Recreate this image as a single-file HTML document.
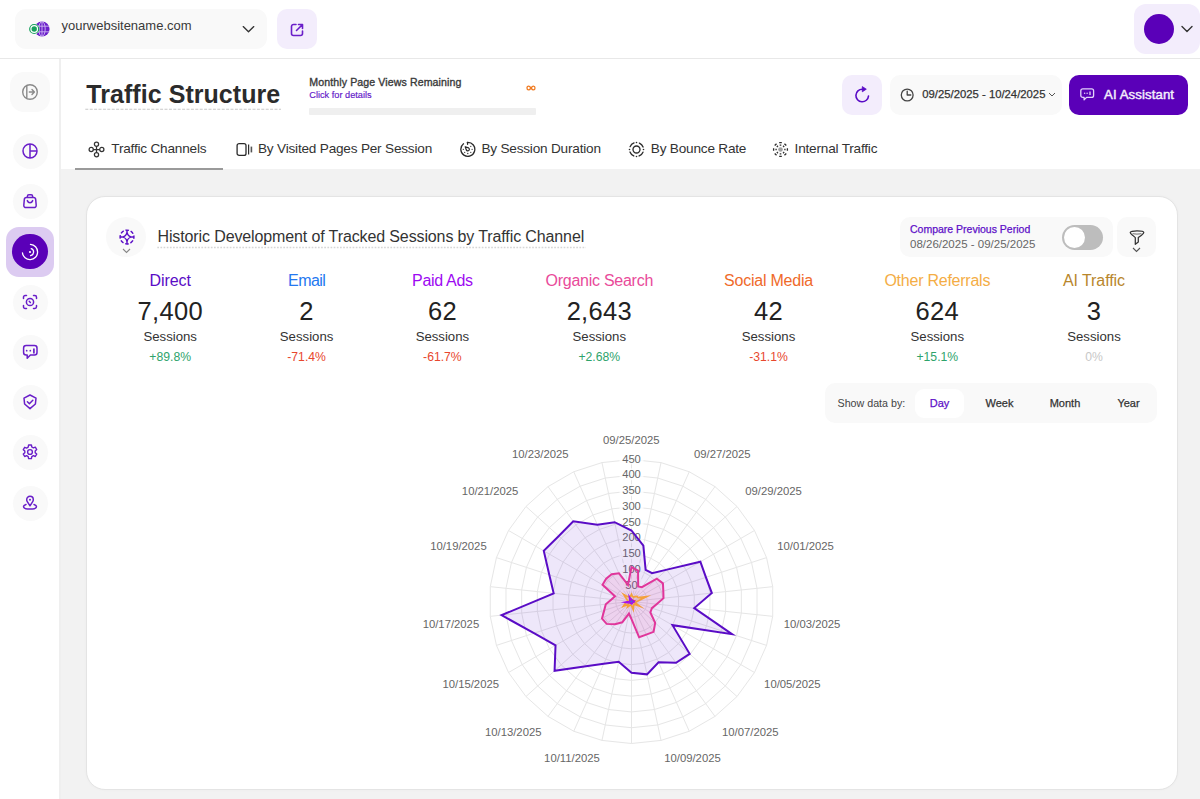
<!DOCTYPE html>
<html><head><meta charset="utf-8"><style>
*{box-sizing:border-box;margin:0;padding:0}
html,body{width:1200px;height:799px;overflow:hidden;background:#fff;font-family:"Liberation Sans",sans-serif}
.t{position:absolute;white-space:nowrap}
.a{position:absolute}
</style></head>
<body>
<div class="a" style="left:0;top:58px;width:1200px;height:1px;background:#e8e8e8"></div>
<div class="a" style="left:59px;top:59px;width:2px;height:740px;background:#efefef"></div>
<div class="a" style="left:61px;top:169px;width:1139px;height:630px;background:#f2f2f2"></div>
<div class="a" style="left:86px;top:196.3px;width:1092px;height:593.5px;background:#fff;border:1px solid #e4e4e4;border-radius:19px;box-shadow:0 0 3px rgba(0,0,0,0.03)"></div>
<div class="a" style="left:15px;top:9.3px;width:251.5px;height:40px;background:#f9f9f9;border-radius:11px"></div>
<svg class="a" style="left:26px;top:19px" width="26" height="20" viewBox="0 0 26 20">
<circle cx="16" cy="10" r="7.6" fill="#6a1fc9"/>
<g stroke="#cdb6f3" stroke-width="0.9" fill="none"><ellipse cx="16" cy="10" rx="3.2" ry="7.4"/><path d="M16 2.6v14.8M8.8 7.2h14.4M8.8 12.8h14.4"/></g>
<circle cx="8.2" cy="10" r="5.3" fill="#fff"/>
<circle cx="8.2" cy="10" r="4.5" fill="none" stroke="#17a05d" stroke-width="1.2"/>
<circle cx="8.2" cy="10" r="2.7" fill="#17a05d"/>
</svg>
<div class="t" style="top:19.00px;font-size:13px;line-height:13px;color:#3a3a3a;font-weight:400;left:61.50px;">yourwebsitename.com</div>
<svg class="a" style="left:242px;top:24.5px" width="13" height="9" viewBox="0 0 13 9"><path d="M1.2 1.6l5.3 5.2 5.3-5.2" fill="none" stroke="#333" stroke-width="1.35" stroke-linecap="round" stroke-linejoin="round"/></svg>
<div class="a" style="left:277px;top:9px;width:40px;height:40px;background:#f3edfc;border-radius:10px"></div>
<svg class="a" style="left:288px;top:20.6px" width="18" height="18" viewBox="0 0 18 18"><path d="M8 3.5H5.5a2 2 0 0 0-2 2v7a2 2 0 0 0 2 2h7a2 2 0 0 0 2-2V10" fill="none" stroke="#6a1fc9" stroke-width="1.6" stroke-linecap="round"/><path d="M10.5 3.5h4v4M14.5 3.5L8.5 9.5" fill="none" stroke="#6a1fc9" stroke-width="1.6" stroke-linecap="round" stroke-linejoin="round"/></svg>
<div class="a" style="left:1134px;top:4px;width:66px;height:50px;background:#f3edfc;border-radius:12px"></div>
<div class="a" style="left:1144px;top:14px;width:30px;height:30px;background:#5a00b8;border-radius:50%"></div>
<svg class="a" style="left:1180px;top:24px" width="14" height="10" viewBox="0 0 14 10"><path d="M2 2.5l5 5 5-5" fill="none" stroke="#333" stroke-width="1.4" stroke-linecap="round" stroke-linejoin="round"/></svg>
<div class="a" style="left:10px;top:72px;width:40px;height:40px;background:#f9f9f9;border-radius:14px"></div>
<svg class="a" style="left:20px;top:82px" width="20" height="20" viewBox="0 0 20 20"><circle cx="10" cy="10" r="7.3" fill="none" stroke="#8a8a8a" stroke-width="1.4"/><path d="M6.8 3.5v13" stroke="#8a8a8a" stroke-width="1.4"/><path d="M9.3 10h5M12 7.6l2.4 2.4-2.4 2.4" fill="none" stroke="#8a8a8a" stroke-width="1.4" stroke-linecap="round" stroke-linejoin="round"/></svg>
<div class="a" style="left:12.5px;top:133.5px;width:35px;height:35px;background:#f9f9f9;border-radius:50%"></div>
<svg class="a" style="left:20px;top:141px" width="20" height="20" viewBox="0 0 20 20"><circle cx="10" cy="10" r="7" fill="none" stroke="#6a1fc9" stroke-width="1.5"/><path d="M10 3v14M10 10h7" stroke="#6a1fc9" stroke-width="1.5"/></svg>
<div class="a" style="left:12.5px;top:183.5px;width:35px;height:35px;background:#f9f9f9;border-radius:50%"></div>
<svg class="a" style="left:20px;top:191px" width="20" height="20" viewBox="0 0 20 20"><path d="M6.4 6.6h7.2c1.2 0 2 .8 2.1 2l.5 5.6c.1 1.4-.9 2.4-2.2 2.4H6c-1.3 0-2.3-1-2.2-2.4l.5-5.6c.1-1.2.9-2 2.1-2z" fill="none" stroke="#6a1fc9" stroke-width="1.5" stroke-linejoin="round"/><path d="M7.4 6.6V5.2c0-.9.6-1.5 1.5-1.5h2.2c.9 0 1.5.6 1.5 1.5v1.4" fill="none" stroke="#6a1fc9" stroke-width="1.5"/><path d="M7.3 9.6c.6 1.5 1.6 2.2 2.7 2.2s2.1-.7 2.7-2.2" fill="none" stroke="#6a1fc9" stroke-width="1.5" stroke-linecap="round"/></svg>
<div class="a" style="left:12.5px;top:284.5px;width:35px;height:35px;background:#f9f9f9;border-radius:50%"></div>
<svg class="a" style="left:20px;top:292px" width="20" height="20" viewBox="0 0 20 20"><path d="M3.5 6.5V5.2c0-1 .7-1.7 1.7-1.7h1.3M13.5 3.5h1.3c1 0 1.7.7 1.7 1.7v1.3M16.5 13.5v1.3c0 1-.7 1.7-1.7 1.7h-1.3M6.5 16.5H5.2c-1 0-1.7-.7-1.7-1.7v-1.3" fill="none" stroke="#6a1fc9" stroke-width="1.5" stroke-linecap="round"/><circle cx="10" cy="10" r="3.6" fill="none" stroke="#6a1fc9" stroke-width="1.5"/><path d="M9.2 9.2l1.2 1.2" stroke="#6a1fc9" stroke-width="1.4" stroke-linecap="round"/></svg>
<div class="a" style="left:12.5px;top:334.5px;width:35px;height:35px;background:#f9f9f9;border-radius:50%"></div>
<svg class="a" style="left:20px;top:342px" width="20" height="20" viewBox="0 0 20 20"><path d="M6.1 3.6h8.4c1.4 0 2.5 1.1 2.5 2.5v4.4c0 1.4-1.1 2.5-2.5 2.5H10.4l-3.2 3.3v-3.3H6.1c-1.4 0-2.5-1.1-2.5-2.5V6.1c0-1.4 1.1-2.5 2.5-2.5z" fill="none" stroke="#6a1fc9" stroke-width="1.5" stroke-linejoin="round"/><circle cx="6.7" cy="8.7" r=".85" fill="#6a1fc9"/><circle cx="10.3" cy="8.7" r=".85" fill="#6a1fc9"/><path d="M13.9 6.4v5.2" stroke="#6a1fc9" stroke-width="1.7"/></svg>
<div class="a" style="left:12.5px;top:384.5px;width:35px;height:35px;background:#f9f9f9;border-radius:50%"></div>
<svg class="a" style="left:20px;top:392px" width="20" height="20" viewBox="0 0 20 20"><path d="M10 3L4 6.2l.6 5.8L10 16.6l5.4-4.6.6-5.8z" fill="none" stroke="#6a1fc9" stroke-width="1.5" stroke-linejoin="round"/><path d="M7.4 9.8l2 1.9 3.4-3.4" fill="none" stroke="#6a1fc9" stroke-width="1.5" stroke-linecap="round" stroke-linejoin="round"/></svg>
<div class="a" style="left:12.5px;top:434.5px;width:35px;height:35px;background:#f9f9f9;border-radius:50%"></div>
<svg class="a" style="left:20px;top:442px" width="20" height="20" viewBox="0 0 20 20"><path d="M8.6 3h2.8l.4 2 1.6.9 1.9-.8 1.4 2.4-1.5 1.4v1.8l1.5 1.4-1.4 2.4-1.9-.8-1.6.9-.4 2H8.6l-.4-2-1.6-.9-1.9.8-1.4-2.4 1.5-1.4V9.1L3.3 7.7l1.4-2.4 1.9.8 1.6-.9z" fill="none" stroke="#6a1fc9" stroke-width="1.4" stroke-linejoin="round"/><circle cx="10" cy="10" r="2.4" fill="none" stroke="#6a1fc9" stroke-width="1.4"/></svg>
<div class="a" style="left:12.5px;top:485.5px;width:35px;height:35px;background:#f9f9f9;border-radius:50%"></div>
<svg class="a" style="left:20px;top:493px" width="20" height="20" viewBox="0 0 20 20"><path d="M10 12.8L7.3 8.6C6.9 8 6.7 7.4 6.7 6.7 6.7 4.8 8.2 3.3 10 3.3s3.3 1.5 3.3 3.4c0 .7-.2 1.3-.6 1.9z" fill="none" stroke="#6a1fc9" stroke-width="1.5" stroke-linejoin="round"/><circle cx="10" cy="6.8" r="1" fill="#6a1fc9"/><path d="M6 11.5c-1.6.5-2.5 1.2-2.5 2 0 1.5 2.9 2.6 6.5 2.6s6.5-1.1 6.5-2.6c0-.8-.9-1.5-2.5-2" fill="none" stroke="#6a1fc9" stroke-width="1.5" stroke-linecap="round"/></svg>
<div class="a" style="left:6px;top:227px;width:48px;height:50px;background:#dccbf1;border-radius:13px"></div>
<div class="a" style="left:12.2px;top:233.8px;width:35.6px;height:35.6px;background:#5a00b8;border-radius:50%"></div>
<svg class="a" style="left:20px;top:241.6px" width="20" height="20" viewBox="0 0 20 20"><path d="M10.5 2.4A7.6 7.6 0 1 1 2.45 10.8" fill="none" stroke="#fff" stroke-width="1.3" stroke-linecap="round"/><path d="M11.2 6.6A3.6 3.6 0 0 1 10.6 13.55" fill="none" stroke="#fff" stroke-width="1.3" stroke-linecap="round"/><circle cx="10" cy="10" r="1.1" fill="#fff"/></svg>
<div class="t" style="top:81.84px;font-size:25px;line-height:25px;color:#2b2b2b;font-weight:700;letter-spacing:0.05px;left:86.30px;">Traffic Structure</div>
<svg class="a" style="left:85px;top:108px" width="197" height="3"><line x1="0.3" y1="1.3" x2="196" y2="1.3" stroke="#c8c8c8" stroke-width="1.1" stroke-dasharray="3 1.4"/></svg>
<div class="t" style="top:76.53px;font-size:10.6px;line-height:10.6px;color:#3a3a3a;font-weight:400;letter-spacing:0.1px;left:309.30px;-webkit-text-stroke:0.35px #3a3a3a">Monthly Page Views Remaining</div>
<div class="t" style="top:91.21px;font-size:9.2px;line-height:9.2px;color:#6214c8;font-weight:400;left:309.30px;-webkit-text-stroke:0.15px #6214c8">Click for details</div>
<div class="a" style="left:309px;top:108px;width:227px;height:7px;background:#efefef;border-radius:1px"></div>
<svg class="a" style="left:526px;top:85px" width="10" height="6" viewBox="0 0 10 6"><path d="M5 3C4 1.6 3.4 1.1 2.6 1.1 1.6 1.1 1 1.9 1 3s.6 1.9 1.6 1.9c.8 0 1.4-.5 2.4-1.9s1.6-1.9 2.4-1.9C8.4 1.1 9 1.9 9 3s-.6 1.9-1.6 1.9C6.6 4.9 6 4.4 5 3z" fill="none" stroke="#f07a20" stroke-width="1.3"/></svg>
<div class="a" style="left:842px;top:74.5px;width:40px;height:40px;background:#f3edfc;border-radius:10px"></div>
<svg class="a" style="left:852px;top:84px" width="20" height="20" viewBox="0 0 20 20"><path d="M16.5 12A6.3 6.3 0 1 1 10.4 5.2" fill="none" stroke="#5a0cc6" stroke-width="1.6" stroke-linecap="round"/><path d="M10.3 2.6L14.3 5.2 10.3 7.8z" fill="#5a0cc6" stroke="#5a0cc6" stroke-width="0.8" stroke-linejoin="round"/></svg>
<div class="a" style="left:890px;top:74.5px;width:172px;height:40px;background:#f9f9f9;border-radius:10px"></div>
<svg class="a" style="left:899px;top:86.5px" width="16" height="16" viewBox="0 0 16 16"><circle cx="8.2" cy="8" r="5.9" fill="none" stroke="#444" stroke-width="1.3"/><path d="M8.2 4.1V8h3.6" fill="none" stroke="#444" stroke-width="1.3" stroke-linecap="round" stroke-linejoin="round"/></svg>
<div class="t" style="top:88.93px;font-size:11.3px;line-height:11.3px;color:#333;font-weight:400;left:922.30px;-webkit-text-stroke:0.25px currentColor">09/25/2025 - 10/24/2025</div>
<svg class="a" style="left:1047.5px;top:92px" width="8" height="5" viewBox="0 0 8 5"><path d="M1 1l3 3 3-3" fill="none" stroke="#555" stroke-width="1"/></svg>
<div class="a" style="left:1069px;top:74.5px;width:119px;height:40px;background:#5a00b8;border-radius:10px"></div>
<svg class="a" style="left:1079px;top:87px" width="17" height="15" viewBox="0 0 17 15"><path d="M3.8 1.8h8.8c1.2 0 2 .8 2 2v4.6c0 1.2-.8 2-2 2H7.6l-2.5 2.4v-2.4H3.8c-1.2 0-2-.8-2-2V3.8c0-1.2.8-2 2-2z" fill="none" stroke="#e2d4fa" stroke-width="1.3" stroke-linejoin="round"/><circle cx="5.6" cy="6.2" r=".75" fill="#e2d4fa"/><circle cx="8.1" cy="6.2" r=".75" fill="#e2d4fa"/><path d="M11 4.4v3.6" stroke="#e2d4fa" stroke-width="1.3"/></svg>
<div class="t" style="top:88.03px;font-size:13.2px;line-height:13.2px;color:#f4effc;font-weight:400;letter-spacing:0.1px;left:1104.00px;-webkit-text-stroke:0.45px #f4effc">AI Assistant</div>
<div class="t" style="top:142.49px;font-size:13.6px;line-height:13.6px;color:#333;font-weight:400;letter-spacing:-0.2px;left:111.30px;">Traffic Channels</div>
<div class="t" style="top:142.49px;font-size:13.6px;line-height:13.6px;color:#333;font-weight:400;letter-spacing:-0.2px;left:258.00px;">By Visited Pages Per Session</div>
<div class="t" style="top:142.49px;font-size:13.6px;line-height:13.6px;color:#333;font-weight:400;letter-spacing:-0.2px;left:481.40px;">By Session Duration</div>
<div class="t" style="top:142.49px;font-size:13.6px;line-height:13.6px;color:#333;font-weight:400;letter-spacing:-0.2px;left:650.80px;">By Bounce Rate</div>
<div class="t" style="top:142.49px;font-size:13.6px;line-height:13.6px;color:#333;font-weight:400;letter-spacing:-0.2px;left:794.60px;">Internal Traffic</div>
<div class="a" style="left:75px;top:168px;width:148px;height:2px;background:#9a9a9a"></div>
<svg class="a" style="left:88px;top:141.3px" width="17" height="17" viewBox="0 0 17 17" fill="none" stroke="#333" stroke-width="1.25"><circle cx="8.5" cy="3.3" r="2.1"/><circle cx="3.2" cy="8.5" r="2.1"/><circle cx="13.8" cy="8.5" r="2.1"/><circle cx="8.5" cy="13.7" r="2.1"/><path d="M5.3 8.5h6.4M8.5 5.4v6.2"/></svg>
<svg class="a" style="left:236px;top:142px" width="17" height="15" viewBox="0 0 17 15" fill="none" stroke="#2b2b2b" stroke-width="1.3"><rect x="1.1" y="1.6" width="8.9" height="11.8" rx="2"/><path d="M12.6 2.6v9.8" stroke-width="1.2"/><path d="M15.4 4.6v5.8" stroke-width="1.6" stroke="#555"/></svg>
<svg class="a" style="left:458.5px;top:140px" width="17" height="17" viewBox="0 0 17 17" fill="none" stroke="#2b2b2b" stroke-width="1.3" stroke-linecap="round"><path d="M8.56 2.3A7 7 0 1 1 4.49 3.78"/><path d="M8.56 2.3v2"/><path d="M6.2 6.7l3.4 1.2a1.6 1.6 0 1 1-2.2 2.2z" stroke-width="1.2" stroke-linejoin="round"/><g fill="#2b2b2b" stroke="none"><circle cx="11.8" cy="6.3" r=".65"/><circle cx="13.1" cy="9.3" r=".65"/><circle cx="11.8" cy="12.3" r=".65"/><circle cx="8.8" cy="13.5" r=".65"/><circle cx="5.7" cy="12.3" r=".65"/><circle cx="4.3" cy="9.3" r=".65"/></g></svg>
<svg class="a" style="left:628px;top:140.7px" width="17" height="17" viewBox="0 0 17 17" fill="none" stroke="#2b2b2b" stroke-width="1.35"><circle cx="8.5" cy="8.5" r="7" stroke-dasharray="5.5 5.5" stroke-dashoffset="-2.75" stroke-linecap="round"/><circle cx="8.5" cy="8.5" r="3.5"/><g fill="#2b2b2b" stroke="none"><circle cx="8.5" cy="1.5" r=".8"/><circle cx="8.5" cy="15.5" r=".8"/><circle cx="1.5" cy="8.5" r=".8"/><circle cx="15.5" cy="8.5" r=".8"/></g></svg>
<svg class="a" style="left:771.6px;top:140.8px" width="17" height="17" viewBox="0 0 17 17" fill="none" stroke="#2b2b2b" stroke-width="1.3"><circle cx="8.5" cy="8.5" r="2.3" fill="#a0a0a0" stroke="none"/><path d="M15.40 7.20L15.40 9.80M14.30 12.46L12.46 14.30M9.80 15.40L7.20 15.40M4.54 14.30L2.70 12.46M1.60 9.80L1.60 7.20M2.70 4.54L4.54 2.70M7.20 1.60L9.80 1.60M12.46 2.70L14.30 4.54M12.90 7.70L12.90 9.30M12.18 11.05L11.05 12.18M9.30 12.90L7.70 12.90M5.95 12.18L4.82 11.05M4.10 9.30L4.10 7.70M4.82 5.95L5.95 4.82M7.70 4.10L9.30 4.10M11.05 4.82L12.18 5.95"/></svg>
<div class="a" style="left:106px;top:217px;width:40px;height:40px;background:#f9f9f9;border-radius:50%"></div>
<svg class="a" style="left:117.5px;top:228.25px" width="18" height="18" viewBox="0 0 18 18" fill="none" stroke="#5a0cc6" stroke-width="1.45"><circle cx="9" cy="9" r="6.9" stroke-dasharray="3.6 1.82" stroke-dashoffset="1.8"/><path d="M9 2.1v2.6M9 13.3v2.6M2.1 9h2.6M13.3 9h2.6" stroke-width="1.4"/><path d="M9 4.7Q9.8 8.2 13.3 9 9.8 9.8 9 13.3 8.2 9.8 4.7 9 8.2 8.2 9 4.7z" stroke-width="1.25" stroke-linejoin="round"/></svg>
<svg class="a" style="left:122px;top:247.5px" width="9" height="6" viewBox="0 0 9 6"><path d="M1 1l3.5 3.5L8 1" fill="none" stroke="#888" stroke-width="1.1"/></svg>
<div class="t" style="top:229.26px;font-size:16px;line-height:16px;color:#333;font-weight:400;letter-spacing:-0.12px;left:157.50px;">Historic Development of Tracked Sessions by Traffic Channel</div>
<svg class="a" style="left:157px;top:245.5px" width="430" height="3"><line x1="0.3" y1="1.5" x2="429" y2="1.5" stroke="#d6d6d6" stroke-width="1.6" stroke-dasharray="1.7 1.45"/></svg>
<div class="a" style="left:900px;top:217px;width:213px;height:40px;background:#f9f9f9;border-radius:10px"></div>
<div class="t" style="top:224.11px;font-size:10.5px;line-height:10.5px;color:#5e10c8;font-weight:400;left:910.00px;-webkit-text-stroke:0.25px currentColor">Compare Previous Period</div>
<div class="t" style="top:239.27px;font-size:11.5px;line-height:11.5px;color:#666;font-weight:400;left:910.00px;">08/26/2025 - 09/25/2025</div>
<div class="a" style="left:1062px;top:225px;width:41px;height:25px;background:#bdbdbd;border-radius:13px"></div>
<div class="a" style="left:1064px;top:227px;width:21px;height:21px;background:#fff;border-radius:50%"></div>
<div class="a" style="left:1117px;top:217px;width:39px;height:40px;background:#f9f9f9;border-radius:10px"></div>
<svg class="a" style="left:1127.5px;top:229.6px" width="17" height="16" viewBox="0 0 17 16" fill="none" stroke="#333" stroke-width="1.25" stroke-linejoin="round"><path d="M2.2 2.6C2.2 1.4 5 .9 9 .9s6.8.5 6.8 1.7c0 1-1.3 1.8-2.6 2.8L10.3 7.6V12l-3 2.3V7.6L4.8 5.4C3.5 4.4 2.2 3.6 2.2 2.6z"/><path d="M4.6 3.6c1.2.4 2.6.5 4.4.5s3.2-.1 4.4-.5" stroke="#888" stroke-width="1.1"/></svg>
<svg class="a" style="left:1132px;top:247px" width="9" height="6" viewBox="0 0 9 6"><path d="M1 1l3.5 3.5L8 1" fill="none" stroke="#555" stroke-width="1.1"/></svg>
<div class="t" style="top:272.86px;font-size:16px;line-height:16px;color:#5a0cc6;font-weight:400;letter-spacing:-0.06px;left:-129.80px;width:600px;text-align:center;">Direct</div>
<div class="t" style="top:299.21px;font-size:25.5px;line-height:25.5px;color:#222;font-weight:400;letter-spacing:0.3px;left:-129.80px;width:600px;text-align:center;">7,400</div>
<div class="t" style="top:329.93px;font-size:13.2px;line-height:13.2px;color:#333;font-weight:400;left:-129.80px;width:600px;text-align:center;">Sessions</div>
<div class="t" style="top:350.67px;font-size:12.2px;line-height:12.2px;color:#2ea36b;font-weight:400;left:-129.80px;width:600px;text-align:center;">+89.8%</div>
<div class="t" style="top:272.86px;font-size:16px;line-height:16px;color:#2478f0;font-weight:400;letter-spacing:-0.6px;left:6.60px;width:600px;text-align:center;">Email</div>
<div class="t" style="top:299.21px;font-size:25.5px;line-height:25.5px;color:#222;font-weight:400;letter-spacing:0.3px;left:6.60px;width:600px;text-align:center;">2</div>
<div class="t" style="top:329.93px;font-size:13.2px;line-height:13.2px;color:#333;font-weight:400;left:6.60px;width:600px;text-align:center;">Sessions</div>
<div class="t" style="top:350.67px;font-size:12.2px;line-height:12.2px;color:#e8472e;font-weight:400;left:6.60px;width:600px;text-align:center;">-71.4%</div>
<div class="t" style="top:272.86px;font-size:16px;line-height:16px;color:#9d0af2;font-weight:400;letter-spacing:-0.32px;left:142.40px;width:600px;text-align:center;">Paid Ads</div>
<div class="t" style="top:299.21px;font-size:25.5px;line-height:25.5px;color:#222;font-weight:400;letter-spacing:0.3px;left:142.40px;width:600px;text-align:center;">62</div>
<div class="t" style="top:329.93px;font-size:13.2px;line-height:13.2px;color:#333;font-weight:400;left:142.40px;width:600px;text-align:center;">Sessions</div>
<div class="t" style="top:350.67px;font-size:12.2px;line-height:12.2px;color:#e8472e;font-weight:400;left:142.40px;width:600px;text-align:center;">-61.7%</div>
<div class="t" style="top:272.86px;font-size:16px;line-height:16px;color:#e94a9a;font-weight:400;letter-spacing:-0.26px;left:299.30px;width:600px;text-align:center;">Organic Search</div>
<div class="t" style="top:299.21px;font-size:25.5px;line-height:25.5px;color:#222;font-weight:400;letter-spacing:0.3px;left:299.30px;width:600px;text-align:center;">2,643</div>
<div class="t" style="top:329.93px;font-size:13.2px;line-height:13.2px;color:#333;font-weight:400;left:299.30px;width:600px;text-align:center;">Sessions</div>
<div class="t" style="top:350.67px;font-size:12.2px;line-height:12.2px;color:#2ea36b;font-weight:400;left:299.30px;width:600px;text-align:center;">+2.68%</div>
<div class="t" style="top:272.86px;font-size:16px;line-height:16px;color:#ef6a2a;font-weight:400;letter-spacing:-0.22px;left:468.50px;width:600px;text-align:center;">Social Media</div>
<div class="t" style="top:299.21px;font-size:25.5px;line-height:25.5px;color:#222;font-weight:400;letter-spacing:0.3px;left:468.50px;width:600px;text-align:center;">42</div>
<div class="t" style="top:329.93px;font-size:13.2px;line-height:13.2px;color:#333;font-weight:400;left:468.50px;width:600px;text-align:center;">Sessions</div>
<div class="t" style="top:350.67px;font-size:12.2px;line-height:12.2px;color:#e8472e;font-weight:400;left:468.50px;width:600px;text-align:center;">-31.1%</div>
<div class="t" style="top:272.86px;font-size:16px;line-height:16px;color:#f4ad45;font-weight:400;letter-spacing:-0.24px;left:637.30px;width:600px;text-align:center;">Other Referrals</div>
<div class="t" style="top:299.21px;font-size:25.5px;line-height:25.5px;color:#222;font-weight:400;letter-spacing:0.3px;left:637.30px;width:600px;text-align:center;">624</div>
<div class="t" style="top:329.93px;font-size:13.2px;line-height:13.2px;color:#333;font-weight:400;left:637.30px;width:600px;text-align:center;">Sessions</div>
<div class="t" style="top:350.67px;font-size:12.2px;line-height:12.2px;color:#2ea36b;font-weight:400;left:637.30px;width:600px;text-align:center;">+15.1%</div>
<div class="t" style="top:272.86px;font-size:16px;line-height:16px;color:#b8862b;font-weight:400;letter-spacing:-0.08px;left:794.00px;width:600px;text-align:center;">AI Traffic</div>
<div class="t" style="top:299.21px;font-size:25.5px;line-height:25.5px;color:#222;font-weight:400;letter-spacing:0.3px;left:794.00px;width:600px;text-align:center;">3</div>
<div class="t" style="top:329.93px;font-size:13.2px;line-height:13.2px;color:#333;font-weight:400;left:794.00px;width:600px;text-align:center;">Sessions</div>
<div class="t" style="top:350.67px;font-size:12.2px;line-height:12.2px;color:#c8c8c8;font-weight:400;left:794.00px;width:600px;text-align:center;">0%</div>
<div class="a" style="left:825px;top:383px;width:332px;height:40px;background:#f9f9f9;border-radius:10px"></div>
<div class="a" style="left:915px;top:389px;width:49px;height:29px;background:#fff;border-radius:9px"></div>
<div class="t" style="top:397.94px;font-size:10.7px;line-height:10.7px;color:#444;font-weight:400;left:837.50px;">Show data by:</div>
<div class="t" style="top:397.69px;font-size:11px;line-height:11px;color:#5e10c8;font-weight:400;left:639.60px;width:600px;text-align:center;-webkit-text-stroke:0.25px currentColor">Day</div>
<div class="t" style="top:397.69px;font-size:11px;line-height:11px;color:#333;font-weight:400;left:699.50px;width:600px;text-align:center;-webkit-text-stroke:0.25px currentColor">Week</div>
<div class="t" style="top:397.69px;font-size:11px;line-height:11px;color:#333;font-weight:400;left:765.00px;width:600px;text-align:center;-webkit-text-stroke:0.25px currentColor">Month</div>
<div class="t" style="top:397.69px;font-size:11px;line-height:11px;color:#333;font-weight:400;left:828.50px;width:600px;text-align:center;-webkit-text-stroke:0.25px currentColor">Year</div>
<svg width="1200" height="799" viewBox="0 0 1200 799" style="position:absolute;left:0;top:0">
<polygon points="631.50,585.72 634.78,586.07 637.92,587.09 640.77,588.74 643.23,590.94 645.16,593.61 646.51,596.62 647.19,599.85 647.19,603.15 646.51,606.38 645.16,609.39 643.23,612.06 640.77,614.26 637.92,615.91 634.78,616.93 631.50,617.28 628.22,616.93 625.08,615.91 622.23,614.26 619.77,612.06 617.84,609.39 616.49,606.38 615.81,603.15 615.81,599.85 616.49,596.62 617.84,593.61 619.77,590.94 622.23,588.74 625.08,587.09 628.22,586.07" fill="none" stroke="#e6e6e6" stroke-width="1"/>
<polygon points="631.50,569.94 638.06,570.63 644.33,572.67 650.05,575.97 654.95,580.39 658.83,585.72 661.51,591.75 662.88,598.20 662.88,604.80 661.51,611.25 658.83,617.28 654.95,622.61 650.05,627.03 644.33,630.33 638.06,632.37 631.50,633.06 624.94,632.37 618.67,630.33 612.95,627.03 608.05,622.61 604.17,617.28 601.49,611.25 600.12,604.80 600.12,598.20 601.49,591.75 604.17,585.72 608.05,580.39 612.95,575.97 618.67,572.67 624.94,570.63" fill="none" stroke="#e6e6e6" stroke-width="1"/>
<polygon points="631.50,554.17 641.34,555.20 650.75,558.26 659.32,563.21 666.68,569.83 672.49,577.83 676.52,586.87 678.57,596.55 678.57,606.45 676.52,616.13 672.49,625.17 666.68,633.17 659.32,639.79 650.75,644.74 641.34,647.80 631.50,648.83 621.66,647.80 612.25,644.74 603.68,639.79 596.32,633.17 590.51,625.17 586.48,616.13 584.43,606.45 584.43,596.55 586.48,586.87 590.51,577.83 596.32,569.83 603.68,563.21 612.25,558.26 621.66,555.20" fill="none" stroke="#e6e6e6" stroke-width="1"/>
<polygon points="631.50,538.39 644.62,539.77 657.17,543.85 668.60,550.44 678.40,559.27 686.16,569.94 691.52,582.00 694.27,594.90 694.27,608.10 691.52,621.00 686.16,633.06 678.40,643.73 668.60,652.56 657.17,659.15 644.62,663.23 631.50,664.61 618.38,663.23 605.83,659.15 594.40,652.56 584.60,643.73 576.84,633.06 571.48,621.00 568.73,608.10 568.73,594.90 571.48,582.00 576.84,569.94 584.60,559.27 594.40,550.44 605.83,543.85 618.38,539.77" fill="none" stroke="#e6e6e6" stroke-width="1"/>
<polygon points="631.50,522.61 647.90,524.34 663.59,529.43 677.87,537.68 690.13,548.71 699.82,562.06 706.53,577.12 709.96,593.25 709.96,609.75 706.53,625.88 699.82,640.94 690.13,654.29 677.87,665.32 663.59,673.57 647.90,678.66 631.50,680.39 615.10,678.66 599.41,673.57 585.13,665.32 572.87,654.29 563.18,640.94 556.47,625.88 553.04,609.75 553.04,593.25 556.47,577.12 563.18,562.06 572.87,548.71 585.13,537.68 599.41,529.43 615.10,524.34" fill="none" stroke="#e6e6e6" stroke-width="1"/>
<polygon points="631.50,506.83 651.18,508.90 670.00,515.02 687.14,524.91 701.85,538.16 713.48,554.17 721.53,572.25 725.65,591.60 725.65,611.40 721.53,630.75 713.48,648.83 701.85,664.84 687.14,678.09 670.00,687.98 651.18,694.10 631.50,696.17 611.82,694.10 593.00,687.98 575.86,678.09 561.15,664.84 549.52,648.83 541.47,630.75 537.35,611.40 537.35,591.60 541.47,572.25 549.52,554.17 561.15,538.16 575.86,524.91 593.00,515.02 611.82,508.90" fill="none" stroke="#e6e6e6" stroke-width="1"/>
<polygon points="631.50,491.06 654.46,493.47 676.42,500.60 696.42,512.15 713.58,527.60 727.15,546.28 736.54,567.37 741.34,589.96 741.34,613.04 736.54,635.63 727.15,656.72 713.58,675.40 696.42,690.85 676.42,702.40 654.46,709.53 631.50,711.94 608.54,709.53 586.58,702.40 566.58,690.85 549.42,675.40 535.85,656.72 526.46,635.63 521.66,613.04 521.66,589.96 526.46,567.37 535.85,546.28 549.42,527.60 566.58,512.15 586.58,500.60 608.54,493.47" fill="none" stroke="#e6e6e6" stroke-width="1"/>
<polygon points="631.50,475.28 657.74,478.04 682.84,486.19 705.69,499.38 725.30,517.04 740.81,538.39 751.54,562.50 757.03,588.31 757.03,614.69 751.54,640.50 740.81,664.61 725.30,685.96 705.69,703.62 682.84,716.81 657.74,724.96 631.50,727.72 605.26,724.96 580.16,716.81 557.31,703.62 537.70,685.96 522.19,664.61 511.46,640.50 505.97,614.69 505.97,588.31 511.46,562.50 522.19,538.39 537.70,517.04 557.31,499.38 580.16,486.19 605.26,478.04" fill="none" stroke="#e6e6e6" stroke-width="1"/>
<polygon points="631.50,459.50 661.02,462.60 689.26,471.78 714.97,486.62 737.03,506.48 754.48,530.50 766.55,557.62 772.72,586.66 772.72,616.34 766.55,645.38 754.48,672.50 737.03,696.52 714.97,716.38 689.26,731.22 661.02,740.40 631.50,743.50 601.98,740.40 573.74,731.22 548.03,716.38 525.97,696.52 508.52,672.50 496.45,645.38 490.28,616.34 490.28,586.66 496.45,557.62 508.52,530.50 525.97,506.48 548.03,486.62 573.74,471.78 601.98,462.60" fill="none" stroke="#e6e6e6" stroke-width="1"/>
<line x1="631.50" y1="601.50" x2="631.50" y2="459.50" stroke="#e6e6e6" stroke-width="1"/>
<line x1="631.50" y1="601.50" x2="661.02" y2="462.60" stroke="#e6e6e6" stroke-width="1"/>
<line x1="631.50" y1="601.50" x2="689.26" y2="471.78" stroke="#e6e6e6" stroke-width="1"/>
<line x1="631.50" y1="601.50" x2="714.97" y2="486.62" stroke="#e6e6e6" stroke-width="1"/>
<line x1="631.50" y1="601.50" x2="737.03" y2="506.48" stroke="#e6e6e6" stroke-width="1"/>
<line x1="631.50" y1="601.50" x2="754.48" y2="530.50" stroke="#e6e6e6" stroke-width="1"/>
<line x1="631.50" y1="601.50" x2="766.55" y2="557.62" stroke="#e6e6e6" stroke-width="1"/>
<line x1="631.50" y1="601.50" x2="772.72" y2="586.66" stroke="#e6e6e6" stroke-width="1"/>
<line x1="631.50" y1="601.50" x2="772.72" y2="616.34" stroke="#e6e6e6" stroke-width="1"/>
<line x1="631.50" y1="601.50" x2="766.55" y2="645.38" stroke="#e6e6e6" stroke-width="1"/>
<line x1="631.50" y1="601.50" x2="754.48" y2="672.50" stroke="#e6e6e6" stroke-width="1"/>
<line x1="631.50" y1="601.50" x2="737.03" y2="696.52" stroke="#e6e6e6" stroke-width="1"/>
<line x1="631.50" y1="601.50" x2="714.97" y2="716.38" stroke="#e6e6e6" stroke-width="1"/>
<line x1="631.50" y1="601.50" x2="689.26" y2="731.22" stroke="#e6e6e6" stroke-width="1"/>
<line x1="631.50" y1="601.50" x2="661.02" y2="740.40" stroke="#e6e6e6" stroke-width="1"/>
<line x1="631.50" y1="601.50" x2="631.50" y2="743.50" stroke="#e6e6e6" stroke-width="1"/>
<line x1="631.50" y1="601.50" x2="601.98" y2="740.40" stroke="#e6e6e6" stroke-width="1"/>
<line x1="631.50" y1="601.50" x2="573.74" y2="731.22" stroke="#e6e6e6" stroke-width="1"/>
<line x1="631.50" y1="601.50" x2="548.03" y2="716.38" stroke="#e6e6e6" stroke-width="1"/>
<line x1="631.50" y1="601.50" x2="525.97" y2="696.52" stroke="#e6e6e6" stroke-width="1"/>
<line x1="631.50" y1="601.50" x2="508.52" y2="672.50" stroke="#e6e6e6" stroke-width="1"/>
<line x1="631.50" y1="601.50" x2="496.45" y2="645.38" stroke="#e6e6e6" stroke-width="1"/>
<line x1="631.50" y1="601.50" x2="490.28" y2="616.34" stroke="#e6e6e6" stroke-width="1"/>
<line x1="631.50" y1="601.50" x2="490.28" y2="586.66" stroke="#e6e6e6" stroke-width="1"/>
<line x1="631.50" y1="601.50" x2="496.45" y2="557.62" stroke="#e6e6e6" stroke-width="1"/>
<line x1="631.50" y1="601.50" x2="508.52" y2="530.50" stroke="#e6e6e6" stroke-width="1"/>
<line x1="631.50" y1="601.50" x2="525.97" y2="506.48" stroke="#e6e6e6" stroke-width="1"/>
<line x1="631.50" y1="601.50" x2="548.03" y2="486.62" stroke="#e6e6e6" stroke-width="1"/>
<line x1="631.50" y1="601.50" x2="573.74" y2="471.78" stroke="#e6e6e6" stroke-width="1"/>
<line x1="631.50" y1="601.50" x2="601.98" y2="462.60" stroke="#e6e6e6" stroke-width="1"/>
<rect x="619.50" y="578.72" width="24" height="12" fill="#fff" fill-opacity="0.75"/>
<text x="631.50" y="588.72" text-anchor="middle" font-family="Liberation Sans" font-size="11.2" fill="#666">50</text>
<rect x="619.50" y="562.94" width="24" height="12" fill="#fff" fill-opacity="0.75"/>
<text x="631.50" y="572.94" text-anchor="middle" font-family="Liberation Sans" font-size="11.2" fill="#666">100</text>
<rect x="619.50" y="547.17" width="24" height="12" fill="#fff" fill-opacity="0.75"/>
<text x="631.50" y="557.17" text-anchor="middle" font-family="Liberation Sans" font-size="11.2" fill="#666">150</text>
<rect x="619.50" y="531.39" width="24" height="12" fill="#fff" fill-opacity="0.75"/>
<text x="631.50" y="541.39" text-anchor="middle" font-family="Liberation Sans" font-size="11.2" fill="#666">200</text>
<rect x="619.50" y="515.61" width="24" height="12" fill="#fff" fill-opacity="0.75"/>
<text x="631.50" y="525.61" text-anchor="middle" font-family="Liberation Sans" font-size="11.2" fill="#666">250</text>
<rect x="619.50" y="499.83" width="24" height="12" fill="#fff" fill-opacity="0.75"/>
<text x="631.50" y="509.83" text-anchor="middle" font-family="Liberation Sans" font-size="11.2" fill="#666">300</text>
<rect x="619.50" y="484.06" width="24" height="12" fill="#fff" fill-opacity="0.75"/>
<text x="631.50" y="494.06" text-anchor="middle" font-family="Liberation Sans" font-size="11.2" fill="#666">350</text>
<rect x="619.50" y="468.28" width="24" height="12" fill="#fff" fill-opacity="0.75"/>
<text x="631.50" y="478.28" text-anchor="middle" font-family="Liberation Sans" font-size="11.2" fill="#666">400</text>
<rect x="619.50" y="452.50" width="24" height="12" fill="#fff" fill-opacity="0.75"/>
<text x="631.50" y="462.50" text-anchor="middle" font-family="Liberation Sans" font-size="11.2" fill="#666">450</text>
<polygon points="631.50,530.50 643.37,545.63 645.62,569.79 652.09,573.16 666.91,569.62 700.37,561.74 705.93,577.32 711.84,593.06 694.27,608.10 732.04,634.17 672.49,625.17 689.66,653.86 676.01,662.77 658.58,662.33 646.98,674.34 631.50,672.82 618.71,661.69 603.78,663.77 584.20,666.60 554.58,670.76 555.53,645.36 533.96,633.19 501.58,615.16 553.67,593.32 549.27,574.78 543.78,550.85 558.80,536.04 573.26,521.34 597.36,524.82 614.64,522.17" fill="rgba(106,40,210,0.115)" stroke="#5a0cc6" stroke-width="2" stroke-linejoin="miter" stroke-miterlimit="10"/>
<polygon points="631.50,567.10 638.06,570.63 638.17,586.51 641.89,587.20 656.83,578.70 662.93,583.36 663.31,591.16 663.51,598.14 656.61,604.14 651.91,608.13 650.36,612.39 655.18,622.83 653.57,631.88 646.26,634.65 639.11,637.30 631.50,619.17 628.94,613.54 622.26,622.26 614.99,624.22 606.64,623.88 601.99,618.54 604.19,610.37 605.77,604.20 611.42,599.39 614.99,596.14 602.53,584.78 606.17,578.70 611.65,574.18 618.92,573.25 627.96,584.83" fill="rgba(230,60,160,0.12)" stroke="#e0369b" stroke-width="2" stroke-linejoin="miter" stroke-miterlimit="10"/>
<polygon points="631.50,594.24 632.55,596.56 633.43,597.18 635.02,596.65 637.13,596.43 638.06,597.71 646.51,596.62 638.40,600.77 636.21,601.99 635.10,602.67 639.70,606.23 634.78,604.46 633.73,604.56 633.55,606.11 633.21,609.53 631.50,605.60 630.78,604.90 629.83,605.25 627.60,606.86 628.22,604.46 623.30,606.23 625.20,603.55 626.48,602.03 628.05,601.14 627.30,600.13 626.31,598.50 623.76,594.53 628.16,596.90 629.19,596.31 630.45,596.56" fill="rgba(245,160,60,0.08)" stroke="#f4a03c" stroke-width="1.7" stroke-linejoin="miter" stroke-miterlimit="10"/>
<polygon points="631.50,599.61 631.76,600.27 631.89,600.64 632.43,600.22 632.20,600.87 632.59,600.87 633.90,600.72 632.76,601.37 632.44,601.60 632.70,601.89 633.14,602.45 632.20,602.13 632.06,602.27 632.01,602.65 631.83,603.04 631.50,602.76 631.37,602.12 631.11,602.36 630.94,602.27 630.56,602.34 629.86,602.45 630.60,601.79 630.56,601.60 630.24,601.37 630.60,601.21 630.41,600.87 630.09,600.23 630.76,600.48 631.11,600.64 631.24,600.27" fill="rgba(239,106,42,0.12)" stroke="#ef6a2a" stroke-width="1.4" stroke-linejoin="miter" stroke-miterlimit="10"/>
<polygon points="631.50,599.29 631.89,599.65 632.14,600.06 632.43,600.22 632.91,600.23 633.14,600.55 633.60,600.82 634.64,601.17 634.64,601.83 633.60,602.18 633.14,602.45 632.67,602.56 632.61,603.03 632.40,603.52 632.02,603.97 631.50,604.02 631.11,603.35 630.73,603.23 630.20,603.29 629.86,602.98 629.31,602.76 627.30,602.87 623.97,602.29 628.99,601.24 629.70,600.91 629.86,600.55 629.62,599.81 629.46,598.69 629.06,596.02 630.91,598.72" fill="rgba(160,16,240,0.85)" stroke="#a010f0" stroke-width="1.2" stroke-linejoin="miter" stroke-miterlimit="10"/>
<polygon points="631.50,601.18 631.57,601.19 631.63,601.21 631.69,601.24 631.73,601.29 631.77,601.34 631.80,601.40 631.81,601.47 631.81,601.53 631.80,601.60 631.77,601.66 631.73,601.71 631.69,601.76 631.63,601.79 631.57,601.81 631.50,601.82 631.43,601.81 631.37,601.79 631.31,601.76 631.27,601.71 631.23,601.66 631.20,601.60 631.19,601.53 631.19,601.47 631.20,601.40 631.23,601.34 631.27,601.29 631.31,601.24 631.37,601.21 631.43,601.19" fill="none" stroke="#b8862b" stroke-width="1" stroke-linejoin="miter" stroke-miterlimit="10"/>
<circle cx="631.5" cy="601.5" r="1" fill="#3b6be6"/>
<text x="631.3" y="443.5" text-anchor="middle" font-family="Liberation Sans" font-size="11.3" fill="#666">09/25/2025</text>
<text x="694.0" y="457.6" text-anchor="start" font-family="Liberation Sans" font-size="11.3" fill="#666">09/27/2025</text>
<text x="745.3" y="494.8" text-anchor="start" font-family="Liberation Sans" font-size="11.3" fill="#666">09/29/2025</text>
<text x="777.3" y="549.5" text-anchor="start" font-family="Liberation Sans" font-size="11.3" fill="#666">10/01/2025</text>
<text x="783.8" y="628.2" text-anchor="start" font-family="Liberation Sans" font-size="11.3" fill="#666">10/03/2025</text>
<text x="764.1" y="688.1" text-anchor="start" font-family="Liberation Sans" font-size="11.3" fill="#666">10/05/2025</text>
<text x="722.0" y="735.8" text-anchor="start" font-family="Liberation Sans" font-size="11.3" fill="#666">10/07/2025</text>
<text x="664.2" y="761.6" text-anchor="start" font-family="Liberation Sans" font-size="11.3" fill="#666">10/09/2025</text>
<text x="599.8" y="761.6" text-anchor="end" font-family="Liberation Sans" font-size="11.3" fill="#666">10/11/2025</text>
<text x="541.5" y="735.8" text-anchor="end" font-family="Liberation Sans" font-size="11.3" fill="#666">10/13/2025</text>
<text x="499.0" y="688.1" text-anchor="end" font-family="Liberation Sans" font-size="11.3" fill="#666">10/15/2025</text>
<text x="479.2" y="627.6" text-anchor="end" font-family="Liberation Sans" font-size="11.3" fill="#666">10/17/2025</text>
<text x="486.7" y="549.7" text-anchor="end" font-family="Liberation Sans" font-size="11.3" fill="#666">10/19/2025</text>
<text x="518.4" y="494.8" text-anchor="end" font-family="Liberation Sans" font-size="11.3" fill="#666">10/21/2025</text>
<text x="568.6" y="457.6" text-anchor="end" font-family="Liberation Sans" font-size="11.3" fill="#666">10/23/2025</text>
</svg>
</body></html>
